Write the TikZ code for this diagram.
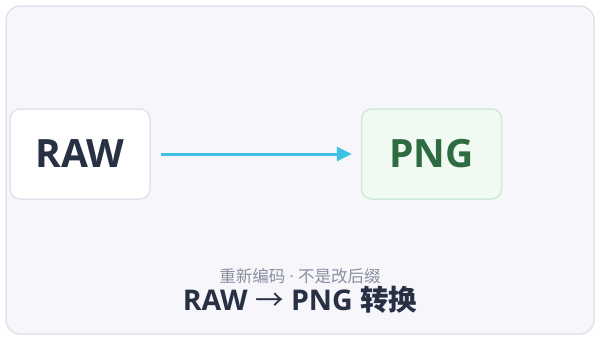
\documentclass[tikz,border=0pt]{standalone}
\usepackage{fontspec}
\setmainfont{Open Sans}
\newfontfamily\cjk{Noto Sans CJK SC}
\definecolor{FrameFill}{RGB}{246,246,251}
\definecolor{FrameLine}{RGB}{226,228,236}
\definecolor{InkDark}{RGB}{40,48,68}
\definecolor{InkGray}{RGB}{138,143,160}
\definecolor{PngGreen}{RGB}{46,107,64}
\definecolor{PngFill}{RGB}{240,250,243}
\definecolor{PngLine}{RGB}{207,235,214}
\definecolor{ArrowCyan}{RGB}{63,193,230}
\usetikzlibrary{positioning,arrows.meta}

\begin{document}
\begin{tikzpicture}[
      x=1pt, y=-1pt,
      every node/.style={align=center},
      fmt/.style      ={draw, rounded corners=10pt, minimum width=140pt, minimum height=90pt,
                        line width=1.5pt, inner sep=0pt, font=\fontsize{39}{42}\selectfont\bfseries},
      rawbox/.style   ={fmt, fill=white, draw=FrameLine, text=InkDark},
      pngbox/.style   ={fmt, fill=PngFill, draw=PngLine, text=PngGreen},
      arr/.style      ={-{Triangle[length=15pt,width=14pt]}, line width=3pt, ArrowCyan},
      capt/.style     ={font=\fontsize{16.5}{19}\selectfont, text=InkGray, inner sep=0pt},
      ttl/.style      ={font=\fontsize{28.5}{31}\selectfont\bfseries, text=InkDark, inner sep=0pt},
  ]
  % ─ Canvas ─
  \useasboundingbox (0,0) rectangle (600,340);
  \fill[white] (0,0) rectangle (600,340);
  \draw[fill=FrameFill, draw=FrameLine, line width=1.5pt, rounded corners=14pt]
        (6,6) rectangle (594,334);

  % ─ Formats ─
  \node[rawbox]                    (raw) at (80,154) {RAW};
  \node[pngbox, right=210pt of raw] (png) {PNG};

  % ─ Conversion arrow ─
  \draw[arr, shorten <=10pt, shorten >=9pt] (raw) -- (png);

  % ─ Caption ─
  \node[capt] (note)  at (300,276) {{\cjk 重新编码} · {\cjk 不是改后缀}};
  \node[ttl]  (title) at (300,300) {RAW {\cjk\mdseries →} PNG {\cjk 转换}};
  \end{tikzpicture}
\end{document}
